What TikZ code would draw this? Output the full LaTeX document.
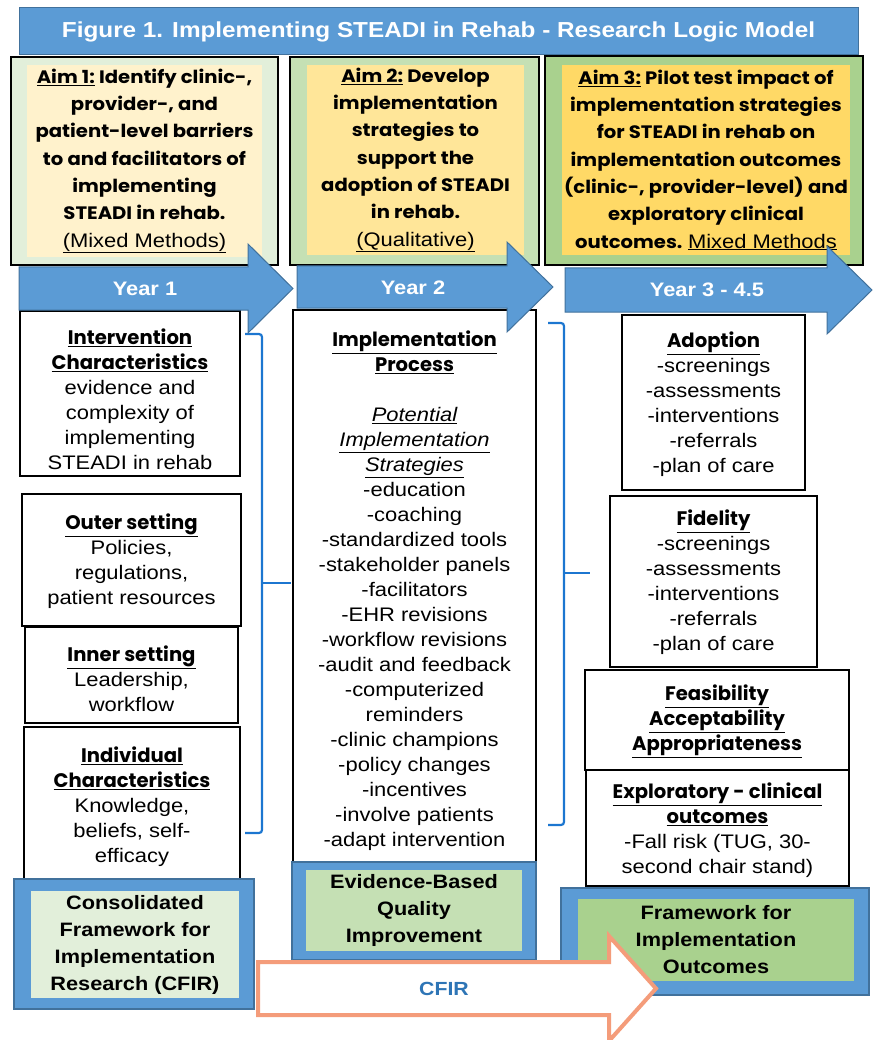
\documentclass[tikz,border=0pt]{standalone}
\usepackage{fontspec}
\setmainfont{Liberation Sans}[FakeStretch=1.12]
\newfontfamily\gothic{Poppins}
\newfontfamily\gothicwide{Poppins}[FakeStretch=1.09]

\definecolor{officeblue}{HTML}{5B9BD5}
\definecolor{edgeblue}{HTML}{41719C}
\definecolor{bracecol}{RGB}{28,118,208}
\definecolor{labelblue}{HTML}{2E75B6}
\definecolor{paleyellow}{HTML}{FFF2CC}
\definecolor{lightyellow}{HTML}{FFE699}
\definecolor{goldyellow}{HTML}{FFD966}
\definecolor{palegreen}{HTML}{E2EFDA}
\definecolor{lightgreen}{HTML}{C5E0B4}
\definecolor{midgreen}{HTML}{A9D18E}
\definecolor{salmon}{RGB}{244,156,122}

% underlined geometric bold heading
\newcommand\hdr[1]{{\gothic\bfseries\underline{#1}}}

\tikzset{
  banner/.style={fill=officeblue, draw=edgeblue, line width=1pt, text=white,
    font=\bfseries\fontsize{21.7}{25}\selectfont},
  aimframe/.style={draw=black, line width=2pt, inner sep=0pt},
  aimtext/.style={inner sep=0pt, align=center,
    font=\gothicwide\bfseries\fontsize{18}{27.3}\selectfont},
  colbox/.style={draw=black, line width=2pt, fill=white, inner sep=0pt},
  coltext/.style={inner sep=0pt, align=center, font=\fontsize{19.6}{25}\selectfont},
  yeararrow/.style={fill=officeblue, draw=edgeblue, line width=1pt},
  yeartext/.style={text=white, inner sep=0pt, font=\bfseries\fontsize{19.5}{22}\selectfont},
  brace/.style={draw=bracecol, line width=2.2pt, rounded corners=3pt},
  frameouter/.style={fill=officeblue, draw=edgeblue, line width=1.2pt, inner sep=0pt},
  frameinner/.style={inner sep=0pt, align=center,
    font=\bfseries\fontsize{19.4}{27}\selectfont},
  cfirarrow/.style={fill=white, draw=salmon, line width=4pt, line join=miter},
}

\begin{document}
\begin{tikzpicture}[x=1pt,y=-1pt]
\useasboundingbox (0,0) rectangle (876,1040);

% ---- title banner ----
\node[banner, minimum width=839pt, minimum height=47pt] (title) at (438.5,31.5)
  {Figure 1. Implementing STEADI in Rehab - Research Logic Model};

% ---- aims ----
\node[aimframe, fill=palegreen, minimum width=267pt, minimum height=208pt] (aim1f) at (144.5,161) {};
\node[aimtext, fill=paleyellow, minimum width=235pt, minimum height=192pt] (aim1) at (144.5,161)
  {\underline{Aim 1:} Identify clinic-,\\ provider-, and\\ patient-level barriers\\
   to and facilitators of\\ implementing\\ STEADI in rehab.\\
   {\normalfont\mdseries\fontsize{19.6}{27.3}\selectfont\underline{(Mixed Methods)}}};

\node[aimframe, fill=lightgreen, minimum width=249pt, minimum height=208pt] (aim2f) at (414.5,161) {};
\node[aimtext, fill=lightyellow, minimum width=217pt, minimum height=190pt] (aim2) at (415.5,160)
  {\underline{Aim 2:} Develop\\ implementation\\ strategies to\\ support the\\
   adoption of STEADI\\ in rehab.\\
   {\normalfont\mdseries\fontsize{19.6}{27.3}\selectfont\underline{(Qualitative)}}};

\node[aimframe, fill=midgreen, minimum width=318pt, minimum height=209pt] (aim3f) at (704,160.5) {};
\node[aimtext, fill=goldyellow, minimum width=288pt, minimum height=190pt] (aim3) at (706,160)
  {\underline{Aim 3:} Pilot test impact of\\ implementation strategies\\ for STEADI in rehab on\\
   implementation outcomes\\ (clinic-, provider-level) and\\ exploratory clinical\\
   outcomes. {\normalfont\mdseries\fontsize{19.6}{27.3}\selectfont\underline{Mixed Methods}}};

% ---- CFIR domains (left column) ----
\node[colbox, minimum width=220pt, minimum height=165pt] (intv) at (130,393.5) {};
\node[coltext] (intvtxt) at (130,399.5)
  {\hdr{Intervention}\\ \hdr{Characteristics}\\ evidence and\\ complexity of\\ implementing\\ STEADI in rehab};
\node[colbox, minimum width=219pt, minimum height=132pt] (outer) at (131.5,560) {};
\node[coltext] (outertxt) at (131.5,561)
  {\hdr{Outer setting}\\ Policies,\\ regulations,\\ patient resources};
\node[colbox, minimum width=213pt, minimum height=96pt] (inner) at (131.5,675) {};
\node[coltext] (innertxt) at (131.5,679)
  {\hdr{Inner setting}\\ Leadership,\\ workflow};
\node[colbox, minimum width=216pt, minimum height=153pt] (indiv) at (132,803.5) {};
\node[coltext] (indivtxt) at (132,806.5)
  {\hdr{Individual}\\ \hdr{Characteristics}\\ Knowledge,\\ beliefs, self-\\ efficacy};

% ---- implementation process (centre column) ----
\node[colbox, minimum width=243pt, minimum height=552pt] (impl) at (414.5,586) {};
\node[coltext] (impltxt) at (414.5,591)
  {\hdr{Implementation}\\ \hdr{Process}\\ \strut\\
   \textit{\underline{Potential}}\\ \textit{\underline{Implementation}}\\ \textit{\underline{Strategies}}\\
   -education\\ -coaching\\ -standardized tools\\ -stakeholder panels\\ -facilitators\\
   -EHR revisions\\ -workflow revisions\\ -audit and feedback\\ -computerized\\ reminders\\
   -clinic champions\\ -policy changes\\ -incentives\\ -involve patients\\ -adapt intervention};

% ---- implementation outcomes (right column) ----
\node[colbox, minimum width=183pt, minimum height=175pt] (adopt) at (713.5,402.5) {};
\node[coltext] (adopttxt) at (713.5,404)
  {\hdr{Adoption}\\ -screenings\\ -assessments\\ -interventions\\ -referrals\\ -plan of care};
\node[colbox, minimum width=207pt, minimum height=171pt] (fid) at (713.5,581.5) {};
\node[coltext] (fidtxt) at (713.5,582)
  {\hdr{Fidelity}\\ -screenings\\ -assessments\\ -interventions\\ -referrals\\ -plan of care};
\node[colbox, minimum width=264pt, minimum height=100pt] (feas) at (717,720) {};
\node[coltext] (feastxt) at (717,721)
  {\hdr{Feasibility}\\ \hdr{Acceptability}\\ \hdr{Appropriateness}};
\node[colbox, minimum width=263pt, minimum height=116pt] (expl) at (717.5,828) {};
\node[coltext] (expltxt) at (717.5,830)
  {\hdr{Exploratory - clinical}\\ \hdr{outcomes}\\ -Fall risk (TUG, 30-\\ second chair stand)};

% ---- braces grouping the columns ----
\draw[brace] (245,334) -| (262,583) |- (245,833);
\draw[brace, rounded corners=0pt] (262,583) -- (291,583);
\draw[brace] (548,323) -| (564,573) |- (548,825);
\draw[brace, rounded corners=0pt] (564,573) -- (590,573);

% ---- year arrows ----
\draw[yeararrow] (19,267) -- (248,267) -- (248,244) -- (293,288.5) -- (248,333)
  -- (248,310) -- (19,310) -- cycle;
\node[yeartext] (yr1) at (145,289) {Year 1};
\draw[yeararrow] (297,266) -- (507,266) -- (507,242) -- (553,287) -- (507,332)
  -- (507,308) -- (297,308) -- cycle;
\node[yeartext] (yr2) at (413,288) {Year 2};
\draw[yeararrow] (565,268) -- (827,268) -- (827,246) -- (872,290) -- (827,334)
  -- (827,312) -- (565,312) -- cycle;
\node[yeartext] (yr3) at (707,290) {Year 3 - 4.5};

% ---- guiding frameworks ----
\node[frameouter, minimum width=240pt, minimum height=130pt] (cfirf) at (134,944) {};
\node[frameinner, fill=palegreen, minimum width=208pt, minimum height=107pt] (cfir) at (135,944.5)
  {Consolidated\\ Framework for\\ Implementation\\ Research (CFIR)};
\node[frameouter, minimum width=244pt, minimum height=98pt] (ebqif) at (414,911) {};
\node[frameinner, fill=lightgreen, minimum width=216pt, minimum height=81pt] (ebqi) at (414,910.5)
  {Evidence-Based\\ Quality\\ Improvement};
\node[frameouter, minimum width=308pt, minimum height=107pt] (fiof) at (715,941.5) {};
\node[frameinner, fill=midgreen, minimum width=276pt, minimum height=82pt] (fio) at (716,940)
  {Framework for\\ Implementation\\ Outcomes};

% ---- CFIR arrow along the bottom ----
\draw[cfirarrow] (258,962) -- (609,962) -- (609,936) -- (656,988.5) -- (609,1041)
  -- (609,1015) -- (258,1015) -- cycle;
\node[text=labelblue, font=\bfseries\fontsize{19}{22}\selectfont] (cfirlbl) at (444,988.5) {CFIR};

\end{tikzpicture}
\end{document}
